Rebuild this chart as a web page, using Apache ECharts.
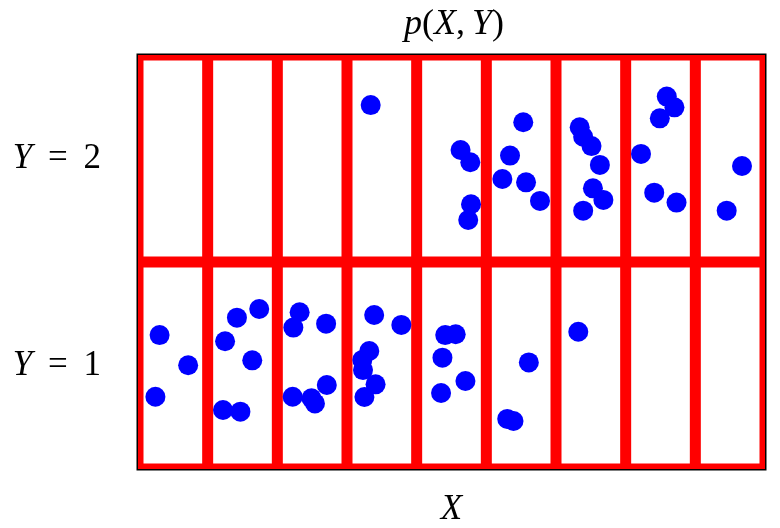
<!DOCTYPE html>
<html>
<head>
<meta charset="utf-8">
<script src="https://cdn.jsdelivr.net/npm/echarts@6/dist/echarts.min.js"></script>
<style>html,body{margin:0;padding:0;background:#fff;}#c{width:780px;height:528px;}</style>
</head>
<body>
<div id="c"></div>
<script>
// Column / row boundaries of the grid
var xBounds = [0, 1, 2, 3, 4, 5, 6, 7, 8, 9];
var yBounds = [0, 1, 2];
// Row label positions and texts
var yLabelPos = [0.5, 1.5];
var yLabelVar = ['Y', 'Y'];
var yLabelVal = ['1', '2'];
// Sample points: X coordinate and Y coordinate (continuous jitter inside cells)
var pointsX = [
  3.34, 4.63, 4.77, 4.78, 4.74, 5.53, 5.34, 5.23, 5.57, 5.77,
  6.34, 6.39, 6.51, 6.63, 6.53, 6.68, 6.39, 7.59, 7.70, 7.49,
  7.22, 7.41, 7.73, 8.67, 8.45,
  0.31, 0.72, 0.25, 1.42, 1.74, 1.25, 1.64, 1.22, 1.47,
  2.32, 2.23, 2.70, 2.71, 2.22, 2.49, 2.54,
  3.39, 3.78, 3.32, 3.22, 3.23, 3.41, 3.25,
  4.41, 4.56, 4.37, 4.70, 4.35,
  5.61, 5.30, 5.39, 6.32
];
var pointsY = [
  1.758, 1.541, 1.482, 1.279, 1.203, 1.675, 1.514, 1.401, 1.385, 1.295,
  1.651, 1.605, 1.560, 1.469, 1.356, 1.300, 1.248, 1.799, 1.747, 1.694,
  1.522, 1.335, 1.287, 1.464, 1.248,
  0.647, 0.501, 0.349, 0.731, 0.773, 0.617, 0.525, 0.285, 0.277,
  0.757, 0.683, 0.702, 0.406, 0.349, 0.342, 0.317,
  0.744, 0.696, 0.570, 0.527, 0.478, 0.409, 0.348,
  0.647, 0.651, 0.538, 0.425, 0.367,
  0.515, 0.242, 0.232, 0.663
];
var titleText = '{i|p}({i|X},\u2009{i|Y})';
var xName = 'X';

var points = pointsX.map(function (x, i) { return [x, pointsY[i]]; });
var lineData = [];
xBounds.forEach(function (v) { lineData.push([0, v]); });
yBounds.forEach(function (v) { lineData.push([1, v]); });

var serif = '"Liberation Serif", "DejaVu Serif", serif';
var chart = echarts.init(document.getElementById('c'), null, {renderer: 'canvas'});
chart.setOption({
  animation: false,
  backgroundColor: '#fff',
  title: {
    text: titleText,
    left: 449, top: 2, textAlign: 'center',
    textStyle: {
      fontFamily: serif, fontSize: 36, fontWeight: 'normal', color: '#000',
      rich: { i: { fontFamily: serif, fontStyle: 'italic', fontSize: 36, color: '#000' } }
    }
  },
  grid: {
    left: 138, top: 55, width: 627, height: 414,
    containLabel: false, outerBoundsMode: 'none',
    show: true, borderColor: '#000', borderWidth: 3, backgroundColor: '#fff'
  },
  xAxis: {
    type: 'value', min: 0, max: 9, interval: 1,
    axisLine: {show: false}, axisTick: {show: false}, axisLabel: {show: false},
    splitLine: {show: false},
    name: xName, nameLocation: 'middle', nameGap: 23,
    nameTextStyle: {fontFamily: serif, fontStyle: 'italic', fontSize: 35, color: '#000', verticalAlign: 'top'}
  },
  yAxis: {
    type: 'value', min: 0, max: 2, interval: 0.5,
    axisLine: {show: false}, axisTick: {show: false}, splitLine: {show: false},
    axisLabel: {
      margin: 37,
      fontFamily: serif, fontSize: 35, color: '#000',
      formatter: function (v) {
        var k = yLabelPos.indexOf(v);
        if (k < 0) return '';
        return '{i|' + yLabelVar[k] + '}\u2005\u2009=\u2005\u2009' + yLabelVal[k];
      },
      rich: { i: { fontFamily: serif, fontStyle: 'italic', fontSize: 35, color: '#000' } }
    }
  },
  series: [
    {
      type: 'custom',
      clip: true,
      z: 2,
      silent: true,
      data: lineData,
      renderItem: function (params, api) {
        var dir = api.value(0), v = api.value(1);
        var p1, p2;
        if (dir === 0) { p1 = api.coord([v, 0]); p2 = api.coord([v, 2]); }
        else { p1 = api.coord([0, v]); p2 = api.coord([9, v]); }
        return {
          type: 'line',
          shape: {x1: p1[0], y1: p1[1], x2: p2[0], y2: p2[1]},
          style: {stroke: '#ff0000', lineWidth: 11}
        };
      }
    },
    {
      type: 'scatter',
      z: 3,
      symbol: 'circle',
      symbolSize: 20,
      itemStyle: {color: '#0000ff', opacity: 1},
      data: points
    }
  ]
});
</script>
</body>
</html>
